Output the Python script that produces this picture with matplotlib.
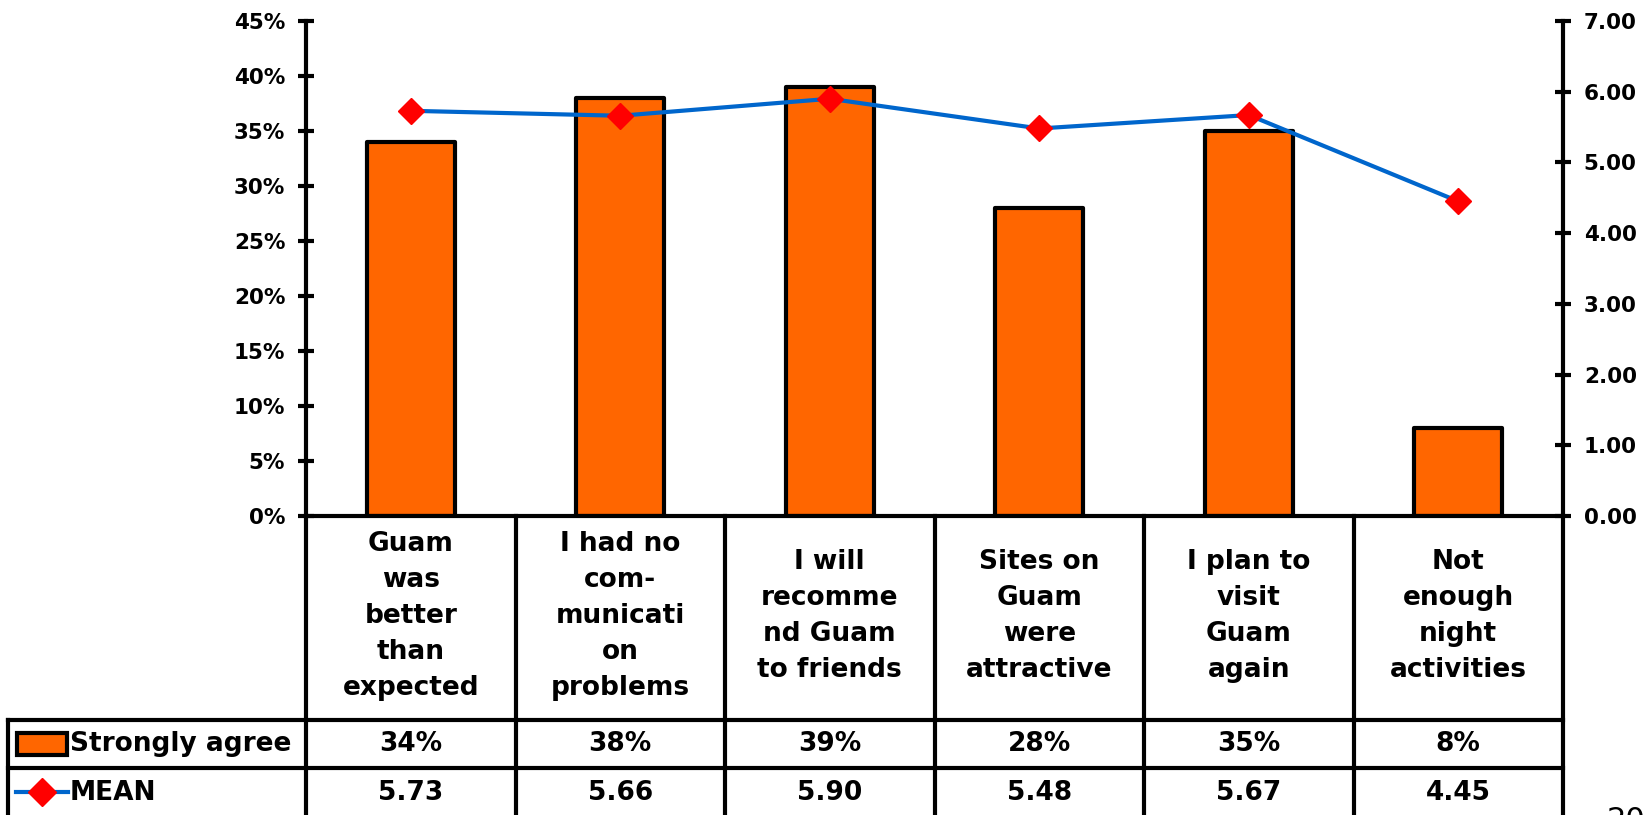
import matplotlib
matplotlib.use("Agg")
import matplotlib.pyplot as plt
from matplotlib.lines import Line2D
from matplotlib.patches import Rectangle
from matplotlib.transforms import blended_transform_factory
from matplotlib.ticker import FuncFormatter

# ---------------- data ----------------
categories = [
    "Guam\nwas\nbetter\nthan\nexpected",
    "I had no\ncom-\nmunicati\non\nproblems",
    "I will\nrecomme\nnd Guam\nto friends",
    "Sites on\nGuam\nwere\nattractive",
    "I plan to\nvisit\nGuam\nagain",
    "Not\nenough\nnight\nactivities",
]
strongly_agree = [34, 38, 39, 28, 35, 8]          # percent
mean_values = [5.73, 5.66, 5.90, 5.48, 5.67, 4.45]
series_names = ["Strongly agree", "MEAN"]
left_ticks = [0, 5, 10, 15, 20, 25, 30, 35, 40, 45]
right_ticks = [0, 1, 2, 3, 4, 5, 6, 7]
page_number = "20"

# ---------------- style ----------------
ORANGE = "#FF6600"
BLUE = "#0066CC"
RED = "#FF0000"
FONT = "DejaVu Sans"
LW = 3.0
plt.rcParams["font.family"] = FONT
plt.rcParams["font.weight"] = "bold"

W, H = 1649, 815
fig = plt.figure(figsize=(W / 100, H / 100), dpi=100)

def fx(px):
    return px / W

def fy(py):
    return 1 - py / H

ax_left, ax_right, ax_top, ax_bot = 306, 1563, 21, 516
ax = fig.add_axes([fx(ax_left), fy(ax_bot), fx(ax_right - ax_left), (ax_bot - ax_top) / H])
ax2 = ax.twinx()

n = len(categories)
xs = [i + 0.5 for i in range(n)]

ax.bar(xs, strongly_agree, width=0.42, color=ORANGE, edgecolor="black",
       linewidth=LW, zorder=2, joinstyle="round")
ax.set_xlim(0, n)
ax.set_ylim(0, 45)
ax.set_yticks(left_ticks)
ax.yaxis.set_major_formatter(FuncFormatter(lambda v, p: f"{v:.0f}%"))
ax.set_xticks([])

ax2.plot(xs, mean_values, color=BLUE, linewidth=3, marker="D", markersize=13,
         markerfacecolor=RED, markeredgecolor=RED, zorder=3)
ax2.set_ylim(0, 7)
ax2.set_yticks(right_ticks)
ax2.yaxis.set_major_formatter(FuncFormatter(lambda v, p: f"{v:.2f}"))

for a in (ax, ax2):
    a.spines["top"].set_visible(False)
    for s in ("left", "right", "bottom"):
        a.spines[s].set_linewidth(LW)
    a.tick_params(axis="y", direction="inout", length=12, width=LW, pad=9,
                  labelsize=15.5)
ax.spines["right"].set_visible(False)
ax2.spines["left"].set_visible(False)
ax2.spines["bottom"].set_visible(False)

# ---------------- data table below ----------------
tr = blended_transform_factory(ax.transData, fig.transFigure)
row_top = ax_bot
cat_bottom = 720
row1_bottom = 768
legend_left = 8

for i in range(n + 1):
    fig.add_artist(Line2D([i, i], [fy(row_top), fy(H + 5)], transform=tr,
                          color="black", linewidth=LW, clip_on=False))
for yy in (cat_bottom, row1_bottom):
    fig.add_artist(Line2D([fx(legend_left), fx(ax_right)], [fy(yy), fy(yy)],
                          transform=fig.transFigure, color="black", linewidth=LW))
fig.add_artist(Line2D([fx(legend_left), fx(legend_left)], [fy(cat_bottom), fy(H + 5)],
                      transform=fig.transFigure, color="black", linewidth=LW))

FS = 19
txt_kw = dict(fontweight="bold", ha="center", va="center")
cat_y = fy((row_top + cat_bottom) / 2 - 2)
r1_y = fy((cat_bottom + row1_bottom) / 2)
r2_y = fy((row1_bottom + H) / 2 + 1)
for i, x in enumerate(xs):
    fig.text(x, cat_y, categories[i], transform=tr, fontsize=FS, linespacing=1.5,
             **txt_kw)
    fig.text(x, r1_y, f"{strongly_agree[i]}%", transform=tr, fontsize=FS, **txt_kw)
    fig.text(x, r2_y, f"{mean_values[i]:.2f}", transform=tr, fontsize=FS, **txt_kw)

# legend keys in the table
fig.add_artist(Rectangle((fx(17), fy(755)), fx(50), (755 - 733) / H,
                         transform=fig.transFigure, facecolor=ORANGE,
                         edgecolor="black", linewidth=LW))
fig.text(fx(70), r1_y, series_names[0], fontsize=FS, fontweight="bold",
         ha="left", va="center")
key_y = fy(792)
fig.add_artist(Line2D([fx(16), fx(68)], [key_y, key_y], transform=fig.transFigure,
                      color=BLUE, linewidth=3))
fig.add_artist(Line2D([fx(42)], [key_y], transform=fig.transFigure, marker="D",
                      markersize=14, markerfacecolor=RED, markeredgecolor=RED,
                      linestyle="none"))
fig.text(fx(70), r2_y, series_names[1], fontsize=FS, fontweight="bold",
         ha="left", va="center")

# cut-off page number (cut at the bottom edge in the reference too)
fig.text(fx(1607), fy(806), page_number, fontsize=22, fontweight="normal",
         ha="left", va="top", color="black")

fig.savefig("out.png", dpi=100)
